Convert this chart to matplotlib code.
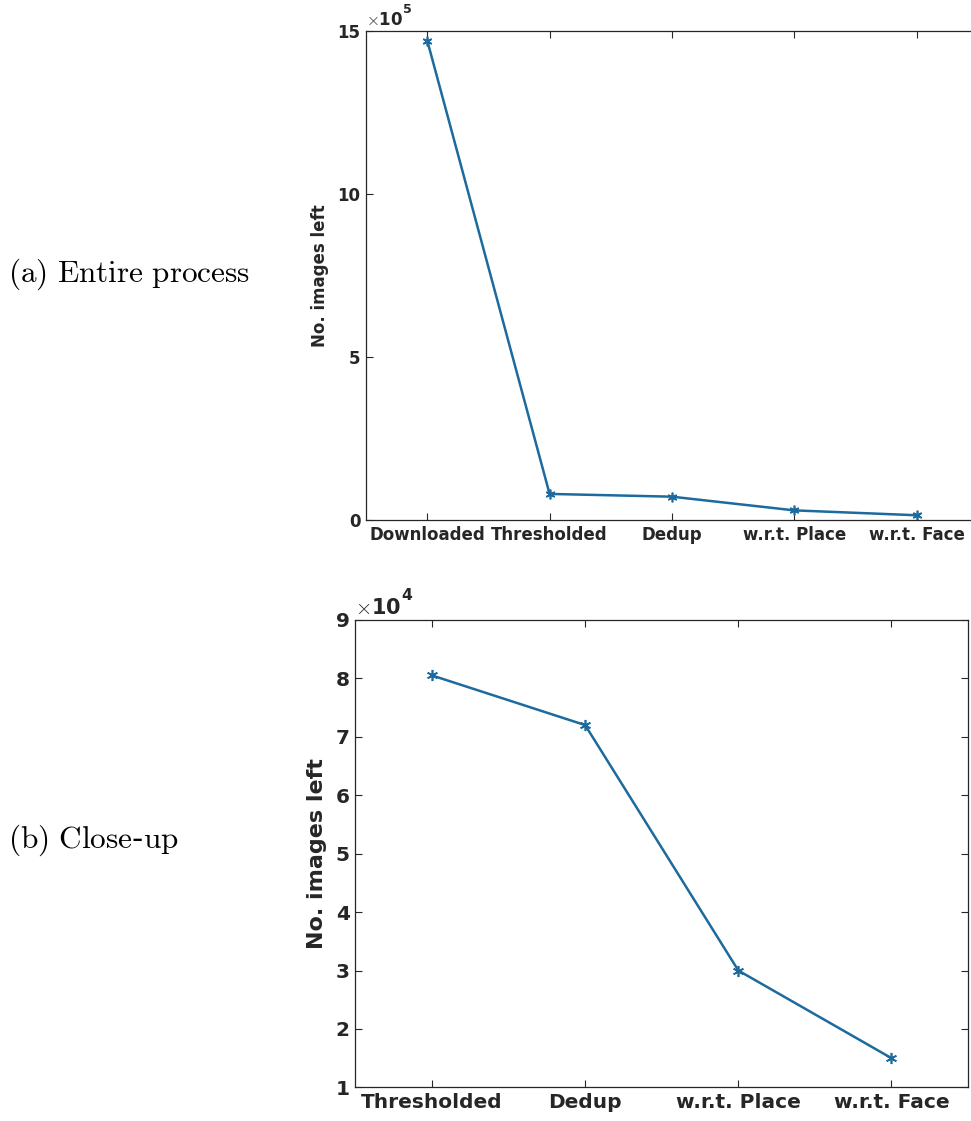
import matplotlib.pyplot as plt
from matplotlib.ticker import FuncFormatter

plt.rcParams['mathtext.fontset'] = 'cm'

# images remaining after each filtering stage
stages_all = ['Downloaded', 'Thresholded', 'Dedup', 'w.r.t. Place', 'w.r.t. Face']
counts_all = [1472000, 80500, 72000, 30000, 15000]

stages_zoom = ['Thresholded', 'Dedup', 'w.r.t. Place', 'w.r.t. Face']
counts_zoom = [80500, 72000, 30000, 15000]

line_color = '#1c6a9e'
ink = '#262626'
asterisk = (6, 2, 0)

fig = plt.figure(figsize=(9.71, 11.21), dpi=100)


def style_axes(ax, fs):
    ax.tick_params(direction='in', top=True, right=True, length=5,
                   width=0.8, colors=ink, labelsize=fs, pad=4)
    for lab in ax.get_xticklabels() + ax.get_yticklabels():
        lab.set_fontweight('bold')
    for s in ax.spines.values():
        s.set_color(ink)
        s.set_linewidth(0.9)


def add_multiplier(ax, power, fs):
    t = ax.text(0.0, 1.005, r'$\times$' + '10', transform=ax.transAxes,
                fontsize=fs, fontweight='bold', color=ink, va='bottom', ha='left')
    ax.annotate(str(power), xy=(1.0, 0.72), xycoords=t, fontsize=fs * 0.75,
                fontweight='bold', color=ink, va='bottom', ha='left')


########## (a) entire process ##########
ax1 = fig.add_axes([0.377, 0.536, 0.63, 0.436])
x1 = list(range(1, len(stages_all) + 1))
ax1.plot(x1, counts_all, color=line_color, lw=1.8, marker=asterisk, ms=7, mew=1.2)
ax1.set_xlim(0.5, 5.5)
ax1.set_ylim(0, 1.5e6)
ax1.set_xticks(x1)
ax1.set_xticklabels(stages_all)
ax1.set_yticks([0, 5e5, 10e5, 15e5])
ax1.yaxis.set_major_formatter(FuncFormatter(lambda v, p: '%d' % round(v / 1e5)))
style_axes(ax1, 12)
ax1.set_ylabel('No. images left', fontsize=12, fontweight='bold', color=ink, labelpad=6)
add_multiplier(ax1, 5, 12)

########## (b) close-up ##########
ax2 = fig.add_axes([0.366, 0.030, 0.631, 0.417])
x2 = list(range(1, len(stages_zoom) + 1))
ax2.plot(x2, counts_zoom, color=line_color, lw=1.8, marker=asterisk, ms=8, mew=1.2)
ax2.set_xlim(0.5, 4.5)
ax2.set_ylim(1e4, 9e4)
ax2.set_xticks(x2)
ax2.set_xticklabels(stages_zoom)
ax2.set_yticks([i * 1e4 for i in range(1, 10)])
ax2.yaxis.set_major_formatter(FuncFormatter(lambda v, p: '%d' % round(v / 1e4)))
style_axes(ax2, 14.5)
ax2.set_ylabel('No. images left', fontsize=16, fontweight='bold', color=ink, labelpad=6)
add_multiplier(ax2, 4, 15)

# side captions
fig.text(0.008, 0.755, r'$\mathrm{(a)\ Entire\ process}$', fontsize=22.5,
         va='center', ha='left', color='black')
fig.text(0.008, 0.25, r'$\mathrm{(b)\ Close}$-$\mathrm{up}$', fontsize=22.5,
         va='center', ha='left', color='black')

fig.savefig('out.png', dpi=100)
